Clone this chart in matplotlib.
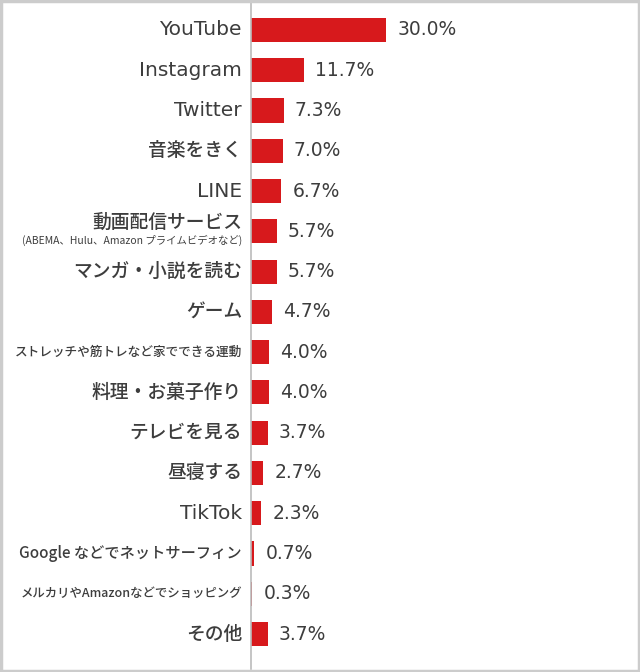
import numpy as np
import matplotlib
matplotlib.use("Agg")
from matplotlib import pyplot as plt
from matplotlib.patches import Rectangle

plt.rcParams['font.family'] = ['DejaVu Sans', 'Noto Sans CJK JP']
jp = ['Noto Sans CJK JP', 'DejaVu Sans']

labels = ["YouTube", "Instagram", "Twitter", "音楽をきく", "LINE",
          "動画配信サービス", "マンガ・小説を読む", "ゲーム",
          "ストレッチや筋トレなど家でできる運動", "料理・お菓子作り",
          "テレビを見る", "昼寝する", "TikTok",
          "Google などでネットサーフィン",
          "メルカリやAmazonなどでショッピング", "その他"]
values = [30.0, 11.7, 7.3, 7.0, 6.7, 5.7, 5.7, 4.7, 4.0, 4.0, 3.7, 2.7, 2.3, 0.7, 0.3, 3.7]
sublabel = "(ABEMA、Hulu、Amazon プライムビデオなど)"
# labels squeezed to fit the left margin (target width in px)
fit_width = {8: 228, 13: 222, 14: 222}

W, H = 640, 672
fig = plt.figure(figsize=(W / 100, H / 100), dpi=100)
ax = fig.add_axes([251 / W, 3 / H, (636 - 251) / W, (669 - 3) / H])

y = np.arange(len(values))
ax.barh(y, values, height=0.6, color="#d7191c")
ax.set_xlim(0, (636 - 251) / 4.5)
ax.set_ylim(15 + 35 / 40.27, -27 / 40.27)

tc = "#3d3d3d"
for i, v in enumerate(values):
    ax.annotate(f"{v:.1f}%", (v, i), xytext=(8, 0), textcoords="offset points",
                va="center", ha="left", fontsize=13.5, color=tc)

fig.canvas.draw()
r = fig.canvas.get_renderer()

def fit(t, width):
    w = t.get_window_extent(r).width
    t.set_fontsize(t.get_fontsize() * width / w)

for i, lab in enumerate(labels):
    dy = -0.22 if i == 5 else 0
    latin = lab.isascii()
    t = ax.annotate(lab, (0, i + dy), xytext=(-6.5, 0), textcoords="offset points",
                    ha="right", va="center", fontsize=14.5 if latin else 13.5, color=tc,
                    family=plt.rcParams['font.family'] if latin else jp,
                    fontweight="normal" if latin else "medium")
    if i in fit_width:
        fit(t, fit_width[i])
t = ax.annotate(sublabel, (0, 5.23), xytext=(-6.5, 0), textcoords="offset points",
                ha="right", va="center", fontsize=8, color=tc, family=jp)
fit(t, 220)

ax.set_xticks([])
ax.set_yticks([])
for s in ["top", "right", "bottom"]:
    ax.spines[s].set_visible(False)
ax.spines["left"].set_color("#bbbbbb")
ax.spines["left"].set_linewidth(1.2)

fig.patches.append(Rectangle((1 / W, 1 / H), 1 - 2 / W, 1 - 2 / H, transform=fig.transFigure,
                             fill=False, edgecolor="#cccccc", linewidth=2.5))

fig.savefig("out.png", dpi=100)
